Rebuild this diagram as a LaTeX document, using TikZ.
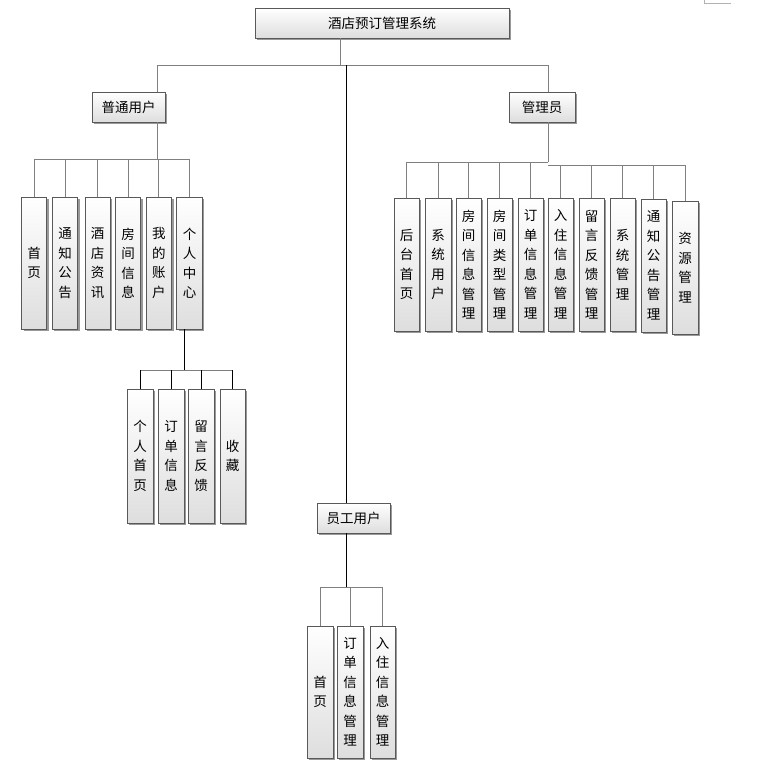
\documentclass[tikz,border=0pt]{standalone}
\usepackage{fontspec}
\setmainfont{Noto Sans CJK SC}
\usetikzlibrary{shadows}
\tikzset{
  box/.style={draw=black!65, line width=0.8pt, top color=white, bottom color=black!13,
    inner sep=0pt, align=center, font=\fontsize{13.5}{19.5}\selectfont,
    drop shadow={shadow xshift=2pt, shadow yshift=-2pt, fill=black!40, opacity=1}},
  link/.style={draw=black!50, line width=1pt},
  dlink/.style={draw=black, line width=1pt},
}
\newcommand\bx[6]{\node[box, minimum width={(#4-#2)*1pt}, minimum height={(#5-#3)*1pt}] (#1) at ({(#2+#4)/2},{(#3+#5)/2}) {#6};}
\begin{document}
\begin{tikzpicture}[x=1pt,y=-1pt]
\useasboundingbox (0,0) rectangle (756,769);
% corner mark
\draw[black!30, line width=0.8pt] (704,0) -- (704,3) -- (731,3);
% boxes
\bx{top}{255}{8}{509}{38}{酒店预订管理系统}
\bx{u}{92}{92}{165}{122}{普通用户}
\bx{a}{509}{92}{575}{122}{管理员}
\bx{s}{317}{503}{390}{533}{员工用户}
% normal user children
\bx{u1}{21.7}{197}{46.7}{329}{首\\页}
\bx{u2}{52.3}{197}{77.7}{329}{通\\知\\公\\告}
\bx{u3}{85}{197}{110}{329}{酒\\店\\资\\讯}
\bx{u4}{115.7}{197}{140.7}{329}{房\\间\\信\\息}
\bx{u5}{146}{197}{171.7}{329}{我\\的\\账\\户}
\bx{u6}{176.7}{197}{202.3}{329}{个\\人\\中\\心}
% personal center children
\bx{p1}{127}{389}{153}{523}{个\\人\\首\\页}
\bx{p2}{158}{389}{184}{523}{订\\单\\信\\息}
\bx{p3}{188}{389}{214}{523}{留\\言\\反\\馈}
\bx{p4}{220}{389}{245}{523}{收\\藏}
% admin children
\bx{a1}{394}{198}{419}{331}{后\\台\\首\\页}
\bx{a2}{425}{198}{451}{331}{系\\统\\用\\户}
\bx{a3}{456}{198}{481}{331}{房\\间\\信\\息\\管\\理}
\bx{a4}{487}{198}{512}{331}{房\\间\\类\\型\\管\\理}
\bx{a5}{518}{198}{543}{331}{订\\单\\信\\息\\管\\理}
\bx{a6}{548}{198}{573}{331}{入\\住\\信\\息\\管\\理}
\bx{a7}{579}{198}{604}{331}{留\\言\\反\\馈\\管\\理}
\bx{a8}{610}{198}{635}{331}{系\\统\\管\\理}
\bx{a9}{641}{199}{666}{332}{通\\知\\公\\告\\管\\理}
\bx{a10}{672}{201}{698}{334}{资\\源\\管\\理}
% staff children
\bx{s1}{307}{626}{333}{758}{首\\页}
\bx{s2}{337}{626}{363}{758}{订\\单\\信\\息\\管\\理}
\bx{s3}{370}{626}{395}{758}{入\\住\\信\\息\\管\\理}
% bus coordinates
\coordinate (tb) at (0,65);
\coordinate (tx) at (340,0);
\coordinate (sx) at (346,0);
\coordinate (ux) at (157,0);
\coordinate (ax) at (548,0);
\coordinate (ub) at (0,159);
\coordinate (pb) at (0,370);
\coordinate (px) at (184,0);
\coordinate (ab) at (0,162);
\coordinate (ab2) at (0,165);
\coordinate (sb) at (0,587);
% top level
\draw[link] (top.south -| tx) -- (tx |- tb);
\draw[link] (ux |- tb) -- (ax |- tb);
\draw[link] (ux |- tb) -- (u.north -| ux);
\draw[link] (ax |- tb) -- (a.north -| ax);
\draw[dlink] (sx |- tb) -- (s.north -| sx);
% normal user
\draw[link] (u.south -| ux) -- (ux |- ub);
\draw[link] (u1.north |- ub) -- (u6.north |- ub);
\foreach \c in {u1,u2,u3,u4,u5,u6} \draw[link] (\c.north) -- (\c.north |- ub);
% personal center
\draw[dlink] (u6.south -| px) -- (px |- pb);
\draw[link] (p1.north |- pb) -- (p4.north |- pb);
\foreach \c in {p1,p2,p3,p4} \draw[dlink] (\c.north) -- (\c.north |- pb);
% admin
\draw[link] (a.south -| ax) -- (ax |- ab);
\draw[link] (a1.north |- ab) -- (ax |- ab);
\draw[link] (ax |- ab2) -- (a10.north |- ab2);
\foreach \c in {a1,a2,a3,a4,a5} \draw[link] (\c.north) -- (\c.north |- ab);
\foreach \c in {a6,a7,a8,a9,a10} \draw[link] (\c.north) -- (\c.north |- ab2);
% staff
\draw[dlink] (s.south -| sx) -- (sx |- sb);
\draw[link] (s1.north |- sb) -- (s3.north |- sb);
\foreach \c in {s1,s2,s3} \draw[link] (\c.north) -- (\c.north |- sb);
\end{tikzpicture}
\end{document}
